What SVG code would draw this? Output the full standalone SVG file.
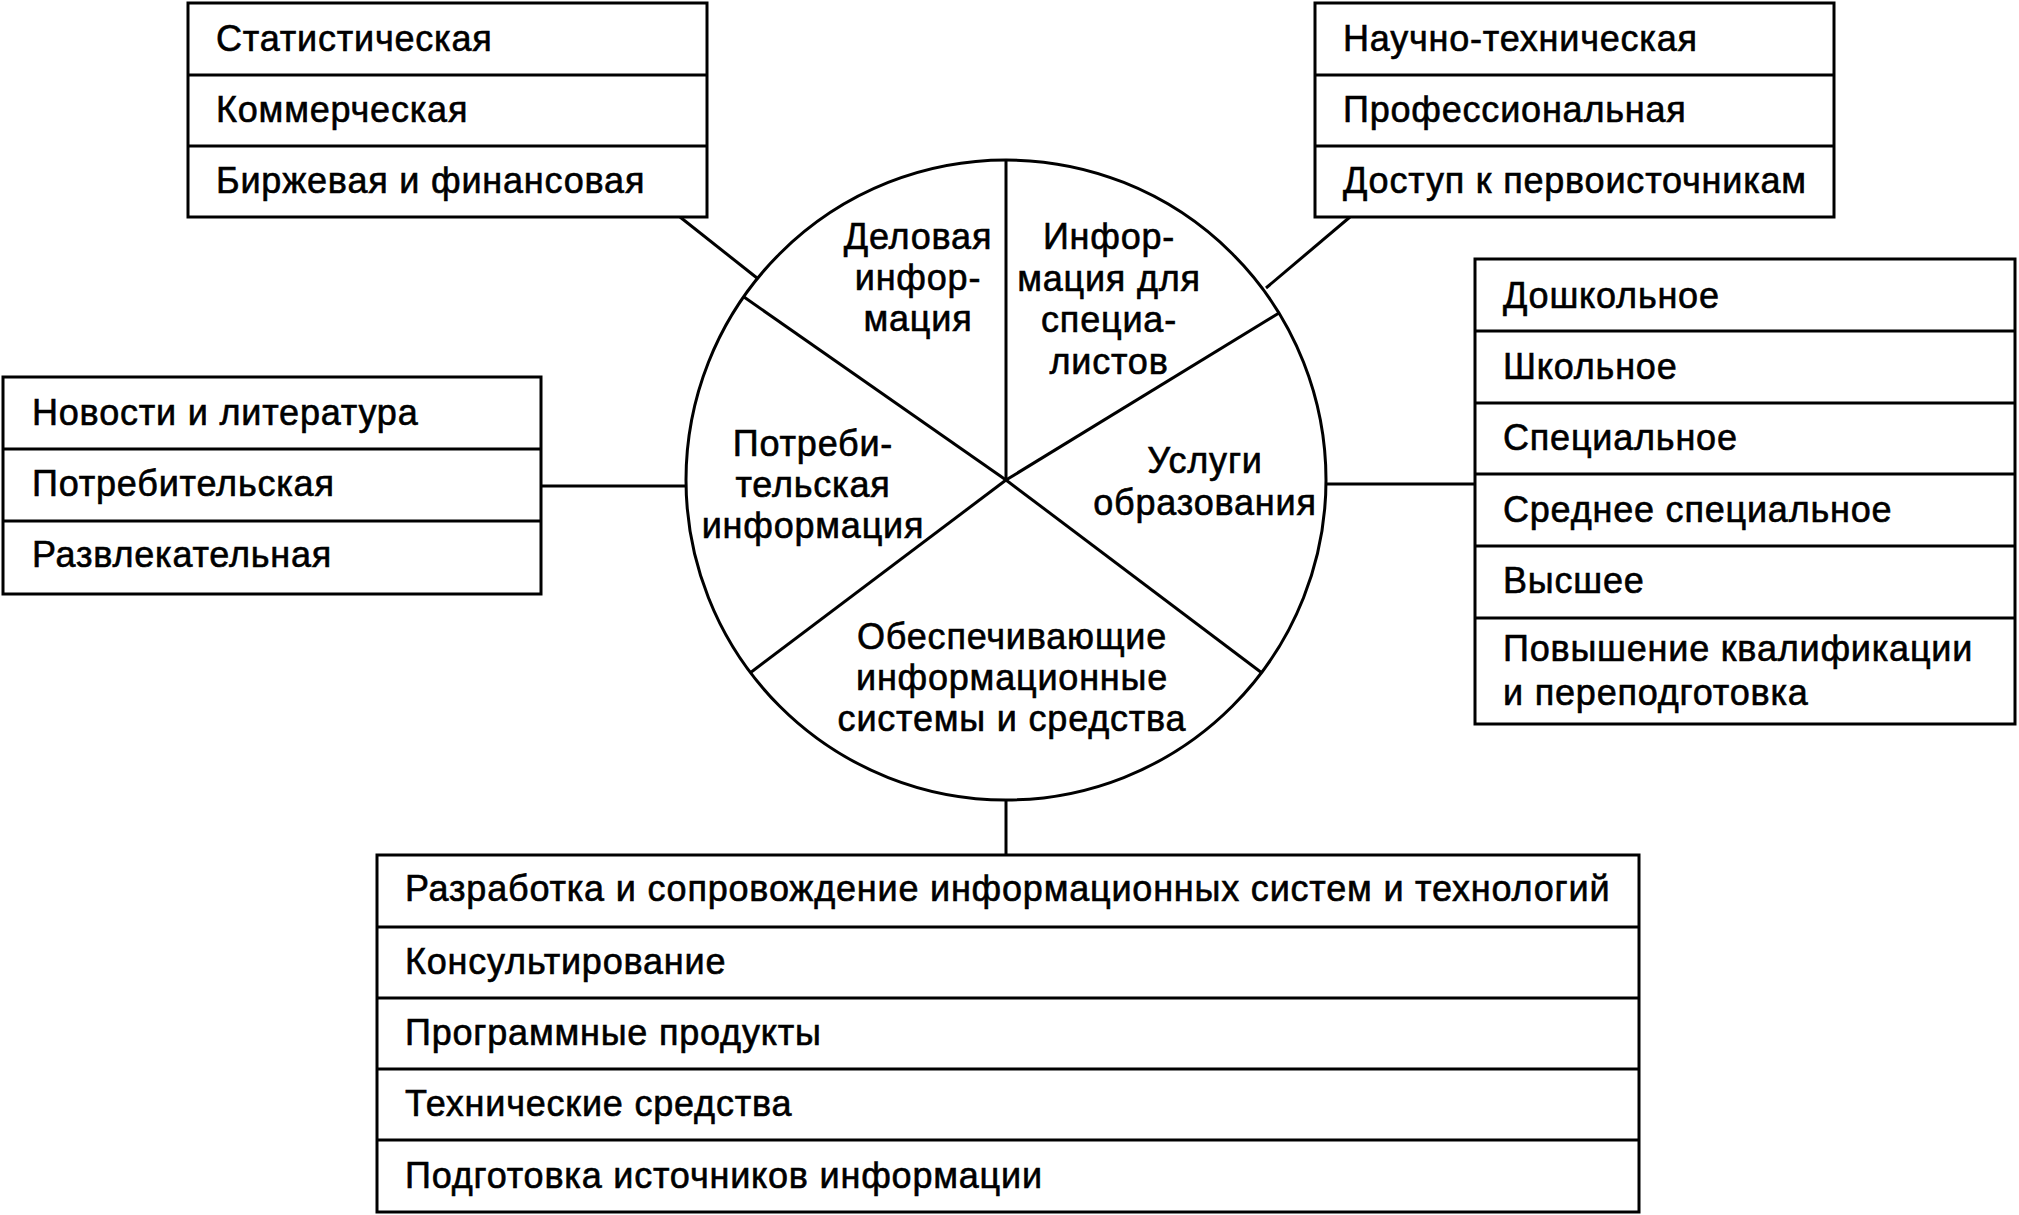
<svg xmlns="http://www.w3.org/2000/svg" width="2019" height="1215" viewBox="0 0 2019 1215">
<style>
.box{fill:#fff;stroke:#000;stroke-width:3}
.div{stroke:#000;stroke-width:3}
.t{font-family:"Liberation Sans",Arial,sans-serif;font-size:36px;letter-spacing:0.8px;fill:#000;stroke:#000;stroke-width:0.6}
.c{text-anchor:middle}
.ln{stroke:#000;stroke-width:3;fill:none}
</style>
<rect width="2019" height="1215" fill="#fff"/>
<g id="connectors">
<line class="ln" x1="680" y1="217" x2="757" y2="278"/>
<line class="ln" x1="1350" y1="217" x2="1266" y2="288"/>
<line class="ln" x1="541" y1="486" x2="686" y2="486"/>
<line class="ln" x1="1326" y1="484" x2="1475" y2="484"/>
<line class="ln" x1="1006" y1="800" x2="1006" y2="855"/>
</g>
<g id="circle">
<circle cx="1006" cy="480" r="320" class="ln"/>
<line class="ln" x1="1006" y1="480" x2="1006" y2="160"/>
<line class="ln" x1="1006" y1="480" x2="744" y2="297"/>
<line class="ln" x1="1006" y1="480" x2="1279" y2="313"/>
<line class="ln" x1="1006" y1="480" x2="1262" y2="673"/>
<line class="ln" x1="1006" y1="480" x2="750" y2="673"/>
<text class="t c" x="918" y="249">Деловая</text>
<text class="t c" x="918" y="290">инфор-</text>
<text class="t c" x="918" y="331">мация</text>
<text class="t c" x="1109" y="249">Инфор-</text>
<text class="t c" x="1109" y="291">мация для</text>
<text class="t c" x="1109" y="332">специа-</text>
<text class="t c" x="1109" y="374">листов</text>
<text class="t c" x="813" y="456">Потреби-</text>
<text class="t c" x="813" y="497">тельская</text>
<text class="t c" x="813" y="538">информация</text>
<text class="t c" x="1205" y="473">Услуги</text>
<text class="t c" x="1205" y="515">образования</text>
<text class="t c" x="1012" y="649">Обеспечивающие</text>
<text class="t c" x="1012" y="690">информационные</text>
<text class="t c" x="1012" y="731">системы и средства</text>
</g>
<g id="box-business">
<rect class="box" x="188" y="3" width="519" height="214"/>
<line class="div" x1="188" y1="75" x2="707" y2="75"/>
<line class="div" x1="188" y1="146" x2="707" y2="146"/>
<text class="t" x="216" y="51">Статистическая</text>
<text class="t" x="216" y="122">Коммерческая</text>
<text class="t" x="216" y="193">Биржевая и финансовая</text>
</g>
<g id="box-specialists">
<rect class="box" x="1315" y="3" width="519" height="214"/>
<line class="div" x1="1315" y1="75" x2="1834" y2="75"/>
<line class="div" x1="1315" y1="146" x2="1834" y2="146"/>
<text class="t" x="1343" y="51">Научно-техническая</text>
<text class="t" x="1343" y="122">Профессиональная</text>
<text class="t" x="1343" y="193">Доступ к первоисточникам</text>
</g>
<g id="box-consumer">
<rect class="box" x="3" y="377" width="538" height="217"/>
<line class="div" x1="3" y1="449" x2="541" y2="449"/>
<line class="div" x1="3" y1="521" x2="541" y2="521"/>
<text class="t" x="32" y="425">Новости и литература</text>
<text class="t" x="32" y="496">Потребительская</text>
<text class="t" x="32" y="567">Развлекательная</text>
</g>
<g id="box-education">
<rect class="box" x="1475" y="259" width="540" height="465"/>
<line class="div" x1="1475" y1="331" x2="2015" y2="331"/>
<line class="div" x1="1475" y1="403" x2="2015" y2="403"/>
<line class="div" x1="1475" y1="474" x2="2015" y2="474"/>
<line class="div" x1="1475" y1="546" x2="2015" y2="546"/>
<line class="div" x1="1475" y1="618" x2="2015" y2="618"/>
<text class="t" x="1503" y="308">Дошкольное</text>
<text class="t" x="1503" y="379">Школьное</text>
<text class="t" x="1503" y="450">Специальное</text>
<text class="t" x="1503" y="522">Среднее специальное</text>
<text class="t" x="1503" y="593">Высшее</text>
<text class="t" x="1503" y="661">Повышение квалификации</text>
<text class="t" x="1503" y="705">и переподготовка</text>
</g>
<g id="box-systems">
<rect class="box" x="377" y="855" width="1262" height="357"/>
<line class="div" x1="377" y1="927" x2="1639" y2="927"/>
<line class="div" x1="377" y1="998" x2="1639" y2="998"/>
<line class="div" x1="377" y1="1069" x2="1639" y2="1069"/>
<line class="div" x1="377" y1="1140" x2="1639" y2="1140"/>
<text class="t" x="405" y="901">Разработка и сопровождение информационных систем и технологий</text>
<text class="t" x="405" y="974">Консультирование</text>
<text class="t" x="405" y="1045">Программные продукты</text>
<text class="t" x="405" y="1116">Технические средства</text>
<text class="t" x="405" y="1188">Подготовка источников информации</text>
</g>
</svg>
